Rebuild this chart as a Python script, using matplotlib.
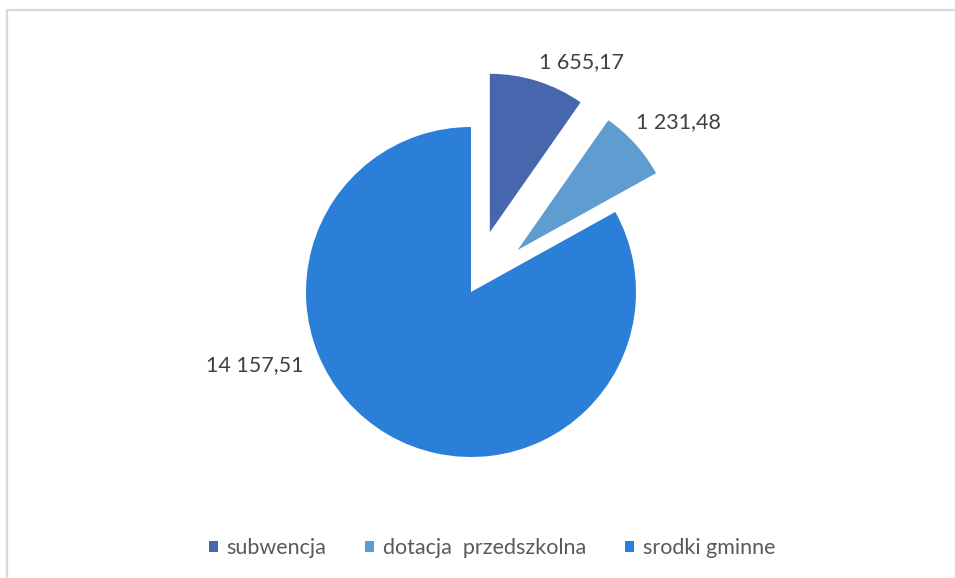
import matplotlib.pyplot as plt
from matplotlib.patches import Rectangle

# data
categories = ["subwencja", "dotacja  przedszkolna", "srodki gminne"]
values = [1655.17, 1231.48, 14157.51]
value_labels = ["1 655,17", "1 231,48", "14 157,51"]
colors = ["#4866AD", "#5F9DD1", "#2B7FD8"]
explode = [0.38, 0.38, 0.0]

plt.rcParams['font.family'] = ['Lato', 'DejaVu Sans']

fig = plt.figure(figsize=(9.55, 5.78), dpi=100)

# light frame like the office chart area
fig.patches.append(Rectangle((6.5 / 955, -0.1), 1.1, (578 - 9.5) / 578 + 0.1,
                             transform=fig.transFigure, fill=False,
                             edgecolor="#d9d9d9", linewidth=1.6))

# pie axes: center at (471, 292) px, radius 165 px
R = 165.0
cx, cy = 471.0, 578 - 292.0
ax = fig.add_axes([(cx - 2 * R) / 955, (cy - 1.7 * R) / 578, 4 * R / 955, 3.4 * R / 578])

wedges, _ = ax.pie(values, colors=colors, startangle=90, counterclock=False,
                   explode=explode, wedgeprops=dict(linewidth=0))
for w, e in zip(wedges, explode):
    if e > 0:
        w.set_radius(0.96)

ax.set_xlim(-2, 2)
ax.set_ylim(-1.7, 1.7)
ax.axis("off")

label_pos = [(0.667, 1.394), (1.255, 1.03), (-1.309, -0.442)]
for (x, y), txt in zip(label_pos, value_labels):
    ax.text(x, y, txt, ha="center", va="center", fontsize=15.5, color="#404040")

leg = fig.legend(wedges, categories, loc="center", bbox_to_anchor=(492 / 955, 1 - 548 / 578),
                 ncol=3, frameon=False, fontsize=15.5, handlelength=0.42, handleheight=0.42,
                 handletextpad=0.4, columnspacing=1.8, labelcolor="#595959")

fig.savefig("out.png", dpi=100)
